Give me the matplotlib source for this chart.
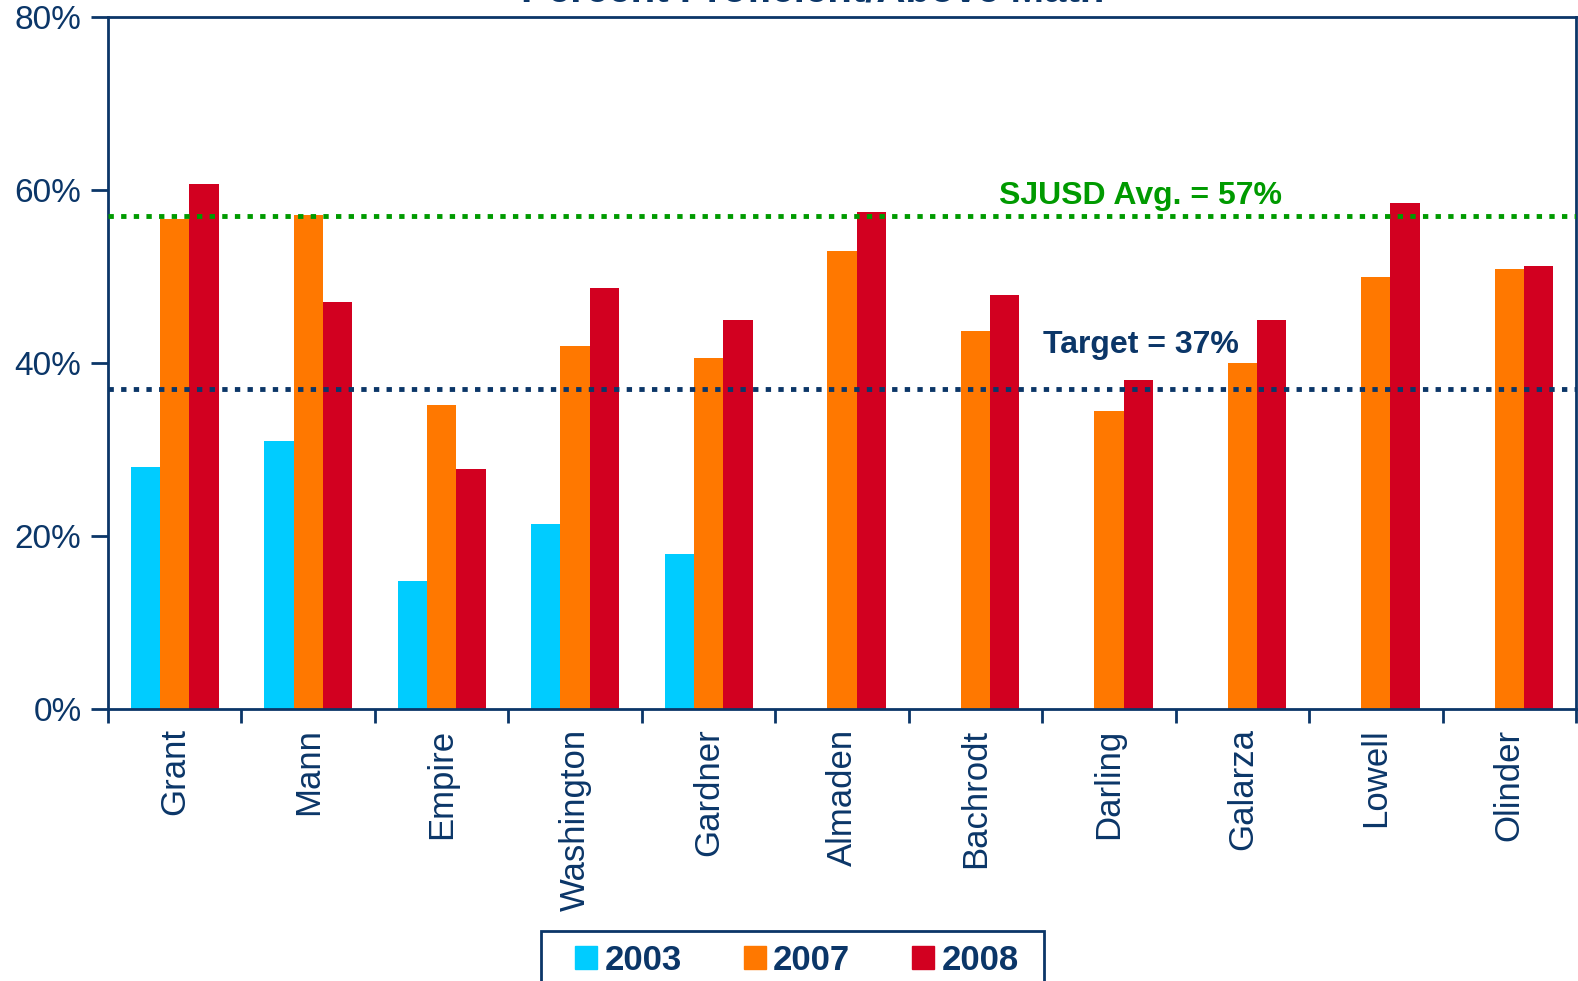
import numpy as np
import matplotlib
matplotlib.use("Agg")
import matplotlib.pyplot as plt
from matplotlib.ticker import FixedLocator, FuncFormatter
from matplotlib.patches import Patch, Rectangle

plt.rcParams['font.family'] = ['Liberation Sans', 'DejaVu Sans']

# data
schools = ['Grant', 'Mann', 'Empire', 'Washington', 'Gardner', 'Almaden',
           'Bachrodt', 'Darling', 'Galarza', 'Lowell', 'Olinder']
years = ['2003', '2007', '2008']
pct_2003 = [28.0, 31.0, 14.8, 21.4, 17.9, np.nan, np.nan, np.nan, np.nan, np.nan, np.nan]
pct_2007 = [56.6, 57.1, 35.2, 42.0, 40.6, 52.9, 43.7, 34.5, 40.0, 49.9, 50.9]
pct_2008 = [60.7, 47.0, 27.8, 48.7, 45.0, 57.4, 47.9, 38.0, 45.0, 58.5, 51.2]
district_avg = 57
target = 37

navy = '#0B3668'
green = '#009A00'
colors = ['#00CCFF', '#FF7800', '#D20020']

fig = plt.figure(figsize=(15.78, 9.81), dpi=100)
ax = fig.add_axes([108/1578, 1 - 709/981, (1576-108)/1578, (709-17)/981])

x = np.arange(len(schools))
w = 0.22
for i, (vals, c) in enumerate(zip([pct_2003, pct_2007, pct_2008], colors)):
    ax.bar(x + (i - 1) * w, vals, width=w, color=c, label=years[i], zorder=2)

ax.axhline(district_avg, color=green, lw=3.5, linestyle=(0, (1.1, 1.5)), zorder=3)
ax.axhline(target, color=navy, lw=3.5, linestyle=(0, (1.1, 1.5)), zorder=3)

ax.text(7.24, district_avg + 0.6, 'SJUSD Avg. = 57%', color=green, fontsize=23,
        fontweight='bold', ha='center', va='bottom')
ax.text(7.24, target + 3.3, 'Target = 37%', color=navy, fontsize=23,
        fontweight='bold', ha='center', va='bottom')

ax.set_xlim(-0.5, len(schools) - 0.5)
ax.set_ylim(0, 80)
ax.set_yticks([0, 20, 40, 60, 80])
ax.yaxis.set_major_formatter(FuncFormatter(lambda v, p: f'{v:.0f}%'))
ax.tick_params(axis='y', labelsize=24, labelcolor=navy, color=navy,
               length=12, width=2, direction='out', pad=7)

ax.set_xticks(x)
ax.set_xticklabels(schools, rotation=90, fontsize=25, color=navy)
ax.tick_params(axis='x', which='major', length=0, pad=14)
ax.xaxis.set_minor_locator(FixedLocator(np.arange(-0.5, len(schools), 1)))
ax.tick_params(axis='x', which='minor', length=10, width=2, color=navy, direction='out')

for s in ax.spines.values():
    s.set_color(navy)
    s.set_linewidth(2)

# title sits almost entirely above the image edge, as in the source
fig.text(813/1578, 1 - 1.5/981, 'Percent Proficient/Above Math', ha='center', va='baseline',
         fontsize=29, fontweight='bold', color=navy)

handles = [Patch(color=c, label=y) for c, y in zip(colors, years)]
leg = fig.legend(handles=handles, loc='center', bbox_to_anchor=(797/1578, 1 - 960/981),
                 ncol=3, fontsize=25, frameon=False,
                 handlelength=0.63, handleheight=0.63, handletextpad=0.2,
                 columnspacing=1.8, borderpad=0.2)
for t in leg.get_texts():
    t.set_color(navy)
    t.set_fontweight('bold')

# legend box runs off the bottom edge
fig.patches.append(Rectangle((541/1578, -10/981), 503/1578, (50 + 10)/981,
                             transform=fig.transFigure, fill=False,
                             edgecolor=navy, linewidth=2))

fig.savefig('out.png', dpi=100)
